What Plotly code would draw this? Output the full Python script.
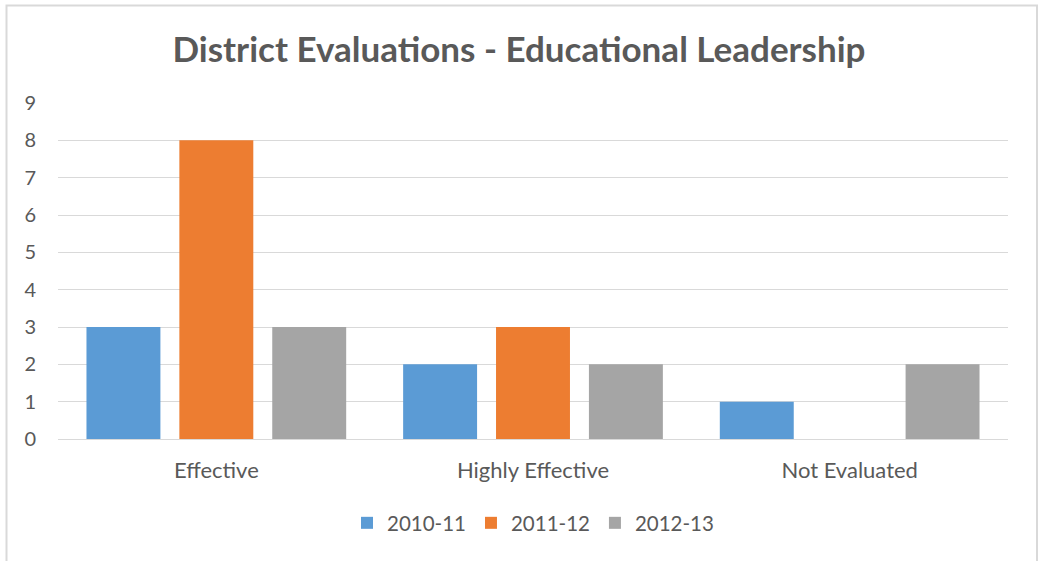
import plotly.graph_objects as go

categories = ["Effective", "Highly Effective", "Not Evaluated"]
series_names = ["2010-11", "2011-12", "2012-13"]
values_2010_11 = [3, 2, 1]
values_2011_12 = [8, 3, 0]
values_2012_13 = [3, 2, 2]
y_ticks = [0, 1, 2, 3, 4, 5, 6, 7, 8, 9]

colors = ["#5B9BD5", "#ED7D31", "#A5A5A5"]
text_color = "#595959"
font_family = "Lato, 'Open Sans', sans-serif"

fig = go.Figure()
for name, vals, c in zip(series_names, [values_2010_11, values_2011_12, values_2012_13], colors):
    fig.add_trace(go.Bar(x=categories, y=vals, name=name, marker=dict(color=c, line=dict(width=0))))

W, H = 1038, 561
ml, mr, mt, mb = 58, 30, 103, 122
pw, ph = W - ml - mr, H - mt - mb

def px_x(x):
    return (x - ml) / pw

def px_y(y):
    return (H - mb - y) / ph

fig.update_layout(
    width=W, height=H,
    margin=dict(l=ml, r=mr, t=mt, b=mb),
    paper_bgcolor="white", plot_bgcolor="white",
    barmode="group", bargap=0.12, bargroupgap=0.204,
    font=dict(family=font_family, color=text_color, size=20),
    title=dict(text="<b>District Evaluations - Educational Leadership</b>",
               x=0.5, xanchor="center", y=1 - 50 / H, yanchor="middle",
               font=dict(size=35, color=text_color, family=font_family)),
    legend=dict(orientation="h", x=0.5, xanchor="center", y=px_y(523), yanchor="middle",
                font=dict(size=20.5, color=text_color), traceorder="normal",
                itemwidth=30),
    showlegend=True,
    shapes=[dict(type="rect", xref="paper", yref="paper",
                 x0=px_x(6.5), x1=px_x(1037), y0=px_y(570), y1=px_y(5.5),
                 line=dict(color="#d9d9d9", width=2), fillcolor="rgba(0,0,0,0)", layer="below")],
)
fig.update_xaxes(showline=True, linecolor="#d9d9d9", linewidth=1, ticks="",
                 tickfont=dict(size=22, color=text_color), ticklabelstandoff=12)
fig.update_yaxes(range=[0, 9], tickvals=y_ticks, showgrid=True, gridcolor="#d9d9d9", gridwidth=1,
                 zeroline=False, showline=False, ticks="",
                 tickfont=dict(size=20, color=text_color), ticklabelstandoff=21)

fig.write_html("out.html", config={"displayModeBar": False},
               post_script="document.body.style.margin='0';document.body.style.overflow='hidden';")
